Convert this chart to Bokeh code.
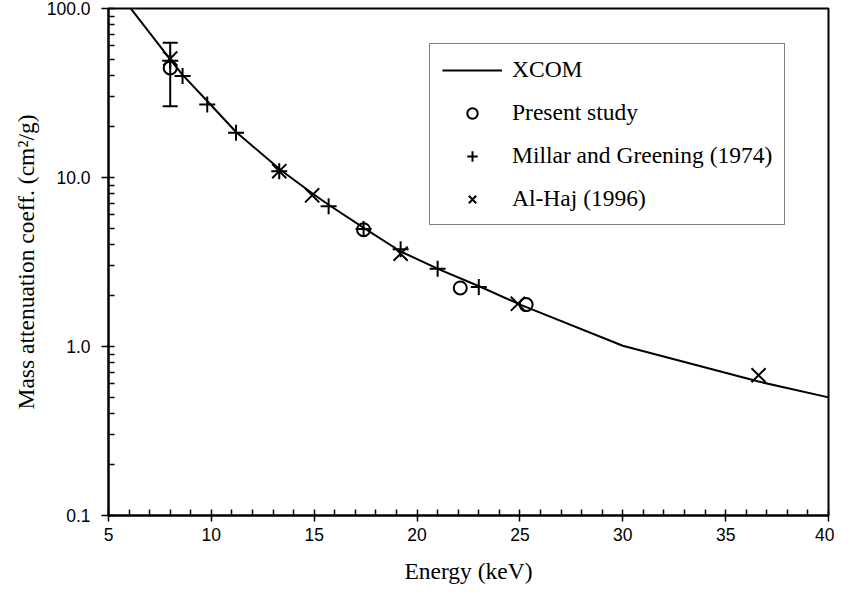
from bokeh.plotting import figure
from bokeh.models import (ColumnDataSource, Whisker, TeeHead, Legend, LegendItem,
                          FixedTicker, CustomJSTickFormatter, Range1d)
from bokeh.embed import file_html
from bokeh.resources import INLINE

# ---- data ----
xcom_energy = [6.0, 8.0, 8.6, 9.9, 11.2, 13.4, 15.0, 15.7, 17.5, 19.2, 21.1, 23.1, 25.1, 30.0, 36.6, 40.0]
xcom_mu = [103, 50, 40.5, 27.5, 18.6, 11.0, 7.9, 6.9, 4.95, 3.65, 2.85, 2.25, 1.75, 1.01, 0.62, 0.50]

present_energy = [8.0, 17.4, 22.1, 25.3]
present_mu = [44.5, 4.91, 2.22, 1.77]

errbar_energy = [8.0]
errbar_low = [26.4]
errbar_high = [62.8]

millar_energy = [8.0, 8.6, 9.8, 11.2, 13.3, 15.7, 17.4, 19.2, 21.0, 23.0]
millar_mu = [49.0, 39.8, 27.0, 18.4, 10.9, 6.76, 4.95, 3.76, 2.88, 2.25]

alhaj_energy = [8.0, 13.3, 14.9, 19.2, 24.9, 36.6]
alhaj_mu = [50.5, 10.9, 7.85, 3.54, 1.79, 0.676]

x_ticks = [5, 10, 15, 20, 25, 30, 35, 40]
y_ticks = [0.1, 1, 10, 100]
y_minor = [m * d for d in (0.1, 1, 10) for m in range(2, 10)]

SERIF = "Liberation Serif"
SANS = "Liberation Sans"

p = figure(frame_width=720, frame_height=507,
           x_range=Range1d(5, 40), y_range=Range1d(0.1, 100),
           y_axis_type="log", output_backend="svg", toolbar_location=None,
           min_border_left=108, min_border_right=6, min_border_top=8, min_border_bottom=70,
           background_fill_color="white", border_fill_color="white")

p.xgrid.visible = False
p.ygrid.visible = False
p.outline_line_color = "black"
p.outline_line_width = 2

# XCOM line
xcom_src = ColumnDataSource(dict(x=xcom_energy, y=xcom_mu))
r_xcom = p.line("x", "y", source=xcom_src, line_color="black", line_width=2)

# error bar
err_src = ColumnDataSource(dict(x=errbar_energy, lower=errbar_low, upper=errbar_high))
p.add_layout(Whisker(base="x", lower="lower", upper="upper", source=err_src,
                     dimension="height", line_color="black", line_width=2,
                     upper_head=TeeHead(size=15, line_width=2, line_color="black"),
                     lower_head=TeeHead(size=15, line_width=2, line_color="black")))

pres_src = ColumnDataSource(dict(x=present_energy, y=present_mu))
r_pres = p.scatter("x", "y", source=pres_src, marker="circle", size=13,
                   line_color="black", line_width=2, fill_color=None)

mil_src = ColumnDataSource(dict(x=millar_energy, y=millar_mu))
r_mil = p.scatter("x", "y", source=mil_src, marker="cross", size=16,
                  line_color="black", line_width=2)

alh_src = ColumnDataSource(dict(x=alhaj_energy, y=alhaj_mu))
r_alh = p.scatter("x", "y", source=alh_src, marker="x", size=20,
                  line_color="black", line_width=2)

# axes
for ax in (p.xaxis[0], p.yaxis[0]):
    ax.axis_line_width = 2
    ax.axis_line_color = "black"
    ax.major_tick_line_color = "black"
    ax.minor_tick_line_color = "black"
    ax.major_tick_line_width = 1.5
    ax.minor_tick_line_width = 1.5
    ax.major_label_text_font = SANS
    ax.major_label_text_font_size = "17.5px"
    ax.major_label_text_color = "black"
    ax.axis_label_text_font = SERIF
    ax.axis_label_text_font_size = "23.5px"
    ax.axis_label_text_font_style = "normal"
    ax.axis_label_text_color = "black"

p.xaxis.ticker = FixedTicker(ticks=x_ticks, minor_ticks=list(range(5, 41)))
p.xaxis.major_tick_out = 6
p.xaxis.major_tick_in = 0
p.xaxis.minor_tick_in = 6
p.xaxis.minor_tick_out = 0
p.xaxis.major_label_standoff = 6
p.xaxis.axis_label = "Energy (keV)"
p.xaxis.axis_label_standoff = 14

p.yaxis.ticker = FixedTicker(ticks=y_ticks, minor_ticks=y_minor)
p.yaxis.formatter = CustomJSTickFormatter(code="return tick.toFixed(1);")
p.yaxis.major_tick_out = 7
p.yaxis.major_tick_in = 6
p.yaxis.minor_tick_in = 6
p.yaxis.minor_tick_out = 0
p.yaxis.major_label_standoff = 11
p.yaxis.axis_label = "Mass attenuation coeff. (cm²/g)"
p.yaxis.axis_label_standoff = 5

legend = Legend(items=[
    LegendItem(label="XCOM", renderers=[r_xcom]),
    LegendItem(label="Present study", renderers=[r_pres]),
    LegendItem(label="Millar and Greening (1974)", renderers=[r_mil]),
    LegendItem(label="Al-Haj (1996)", renderers=[r_alh]),
], location=(321, 290))
legend.label_text_font = SERIF
legend.label_text_font_size = "23.5px"
legend.label_text_color = "black"
legend.border_line_color = "black"
legend.border_line_width = 1
legend.background_fill_color = "white"
legend.background_fill_alpha = 1
legend.padding = 12
legend.spacing = 16
legend.glyph_width = 60
legend.glyph_height = 26
legend.label_height = 26
legend.label_standoff = 10
legend.margin = 0
p.add_layout(legend, "center")

open("out.html", "w").write(file_html(p, INLINE))
